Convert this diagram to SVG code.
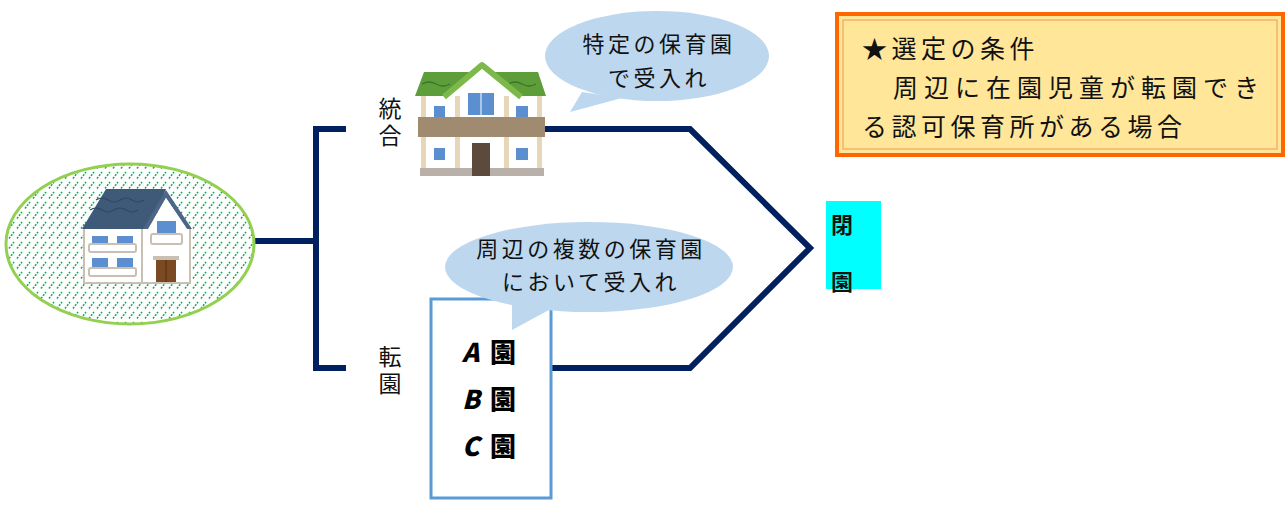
<svg xmlns="http://www.w3.org/2000/svg" width="1287" height="507" viewBox="0 0 1287 507">
  <style>
    .jp { font-family: "Noto Sans CJK JP", "Noto Sans", sans-serif; fill: #111; }
    .lbl { font-size: 23px; }
    .vert { writing-mode: vertical-rl; letter-spacing: 4px; }
    .bub { font-size: 22px; letter-spacing: 3.5px; }
    .cond { font-size: 25px; letter-spacing: 4.5px; }
    .navy { fill: none; stroke: #002060; stroke-width: 6; stroke-linejoin: miter; }
    .bubble { fill: #BDD7EE; }
    .win { fill: #5B8FD0; }
    .rail { fill: #fff; stroke: #C9BFB3; stroke-width: 2; }
    .pillar { fill: #E8D6B8; }
    .abc { font-family: "Noto Sans CJK JP", sans-serif; font-weight: 900; font-size: 26px; fill: #000; }
  </style>
  <defs>
    <pattern id="hatch" width="8" height="10" patternUnits="userSpaceOnUse">
      <line x1="1" y1="8.5" x2="6" y2="2" stroke="#00B050" stroke-width="1.5" stroke-dasharray="2 1.3"/>
    </pattern>
  </defs>

  <rect width="1287" height="507" fill="#fff"/>

  <!-- connectors -->
  <g id="connectors">
    <line class="navy" x1="255" y1="241" x2="316" y2="241"/>
    <polyline class="navy" points="346,129 316,129 316,368 346,368"/>
    <polyline class="navy" points="540,129 690,129 810,248 690,368 552,368"/>
  </g>

  <!-- current nursery -->
  <g id="current-nursery">
    <ellipse cx="130" cy="244" rx="124" ry="80" fill="#fff"/>
    <ellipse cx="130" cy="244" rx="124" ry="80" fill="url(#hatch)" stroke="#92D050" stroke-width="3"/>
    <!-- body -->
    <rect x="84" y="228" width="106" height="55" fill="#fff" stroke="#C9BFB3" stroke-width="2"/>
    <line x1="142" y1="228" x2="142" y2="283" stroke="#C9BFB3" stroke-width="2"/>
    <!-- roof -->
    <polygon points="82,229 106,189 166,189 150,229" fill="#3F5A78"/>
    <polygon points="143,229 166,190 192,229 187,229 166,198 148,229" fill="#4D6688"/>
    <polygon points="148,229 166,198 187,229" fill="#fff"/>
    <path d="M90,210 q6,-4 12,0 t12,0 t12,0 t12,0 M96,200 q6,-4 12,0 t12,0 t12,0 t12,0" fill="none" stroke="#2F4763" stroke-width="1.2"/>
    <!-- left windows -->
    <rect class="win" x="92" y="236" width="16" height="9"/>
    <rect class="win" x="117" y="236" width="16" height="9"/>
    <rect class="rail" x="89" y="244" width="47" height="8" rx="2"/>
    <rect class="win" x="92" y="258" width="16" height="10"/>
    <rect class="win" x="117" y="258" width="16" height="10"/>
    <rect class="rail" x="89" y="268" width="47" height="8" rx="2"/>
    <!-- gable side -->
    <rect class="win" x="157" y="221" width="19" height="13"/>
    <rect class="rail" x="151" y="234" width="31" height="10" rx="2"/>
    <rect x="153" y="256" width="26" height="4" fill="#C9BFB3"/>
    <rect x="156" y="260" width="20" height="22" fill="#7B4A22"/>
    <line x1="166" y1="260" x2="166" y2="282" stroke="#4E2E14" stroke-width="1"/>
  </g>

  <!-- integration label -->
  <g id="label-integration">
    <text class="jp lbl vert" x="390" y="97">統合</text>
  </g>

  <!-- transfer label -->
  <g id="label-transfer">
    <text class="jp lbl vert" x="390" y="345">転園</text>
  </g>

  <!-- receiving nursery -->
  <g id="receiving-nursery">
    <rect x="420" y="95" width="122" height="80" fill="#fff"/>
    <rect class="pillar" x="421" y="95" width="5" height="80"/>
    <rect class="pillar" x="455" y="95" width="5" height="80"/>
    <rect class="pillar" x="504" y="95" width="5" height="80"/>
    <rect class="pillar" x="537" y="95" width="5" height="80"/>
    <polygon points="415,96 424,72 538,72 546,96" fill="#5E9E3A"/>
    <path d="M422,84 q7,-4 14,0 t14,0 M508,84 q7,-4 14,0 t14,0" fill="none" stroke="#3D7426" stroke-width="1.3"/>
    <polygon points="447,96 482,67 518,96" fill="#fff"/>
    <polyline points="444,97 482,65 521,97" fill="none" stroke="#7DB84A" stroke-width="6" stroke-linejoin="round"/>
    <rect class="win" x="468" y="93" width="26" height="22"/>
    <line x1="481" y1="93" x2="481" y2="115" stroke="#A9C8EC" stroke-width="2"/>
    <rect class="win" x="434" y="106" width="11" height="12"/>
    <rect class="win" x="516" y="106" width="12" height="12"/>
    <rect x="418" y="117" width="127" height="20" fill="#A08A70"/>
    <rect class="win" x="434" y="148" width="11" height="12"/>
    <rect class="win" x="516" y="148" width="12" height="12"/>
    <rect x="420" y="168" width="124" height="8" fill="#B9B1A9"/>
    <rect x="472" y="143" width="18" height="33" fill="#5C4A3C"/>
  </g>

  <!-- bubble: specific nursery -->
  <g id="bubble-specific">
    <polygon class="bubble" points="582,92 570,112 622,98"/>
    <ellipse class="bubble" cx="657" cy="56" rx="112" ry="45"/>
    <text class="jp bub" x="659" y="52" text-anchor="middle">特定の保育園</text>
    <text class="jp bub" x="659" y="86" text-anchor="middle">で受入れ</text>
  </g>

  <!-- nursery list box -->
  <g id="nursery-list">
    <rect x="431" y="299" width="120" height="199" fill="#fff" stroke="#5B9BD5" stroke-width="3"/>
    <text class="abc" y="362"><tspan x="462" font-style="italic">A</tspan><tspan x="490">園</tspan></text>
    <text class="abc" y="409"><tspan x="462" font-style="italic">B</tspan><tspan x="490">園</tspan></text>
    <text class="abc" y="456"><tspan x="462" font-style="italic">C</tspan><tspan x="490">園</tspan></text>
  </g>

  <!-- bubble: multiple nurseries -->
  <g id="bubble-multiple">
    <polygon class="bubble" points="512,296 512,330 560,304"/>
    <ellipse class="bubble" cx="589" cy="267" rx="144" ry="45"/>
    <text class="jp bub" x="591" y="257" text-anchor="middle">周辺の複数の保育園</text>
    <text class="jp bub" x="591" y="290" text-anchor="middle">において受入れ</text>
  </g>

  <!-- closure -->
  <g id="closure">
    <rect x="826" y="201" width="55" height="88" fill="#00FFFF"/>
    <text class="jp" font-size="22" font-weight="bold" fill="#000"><tspan x="831" y="233">閉</tspan><tspan x="831" y="290">園</tspan></text>
  </g>

  <!-- selection conditions -->
  <g id="conditions">
    <rect x="837" y="14" width="446" height="141" fill="#FFE699" stroke="#FF6600" stroke-width="4"/>
    <rect x="843" y="20" width="434" height="129" fill="none" stroke="#F4A460" stroke-width="1.2"/>
    <text class="jp cond" x="862" y="58">★選定の条件</text>
    <text class="jp cond" x="862" y="97" style="letter-spacing: 6px">　周辺に在園児童が転園でき</text>
    <text class="jp cond" x="862" y="136">る認可保育所がある場合</text>
  </g>
</svg>
